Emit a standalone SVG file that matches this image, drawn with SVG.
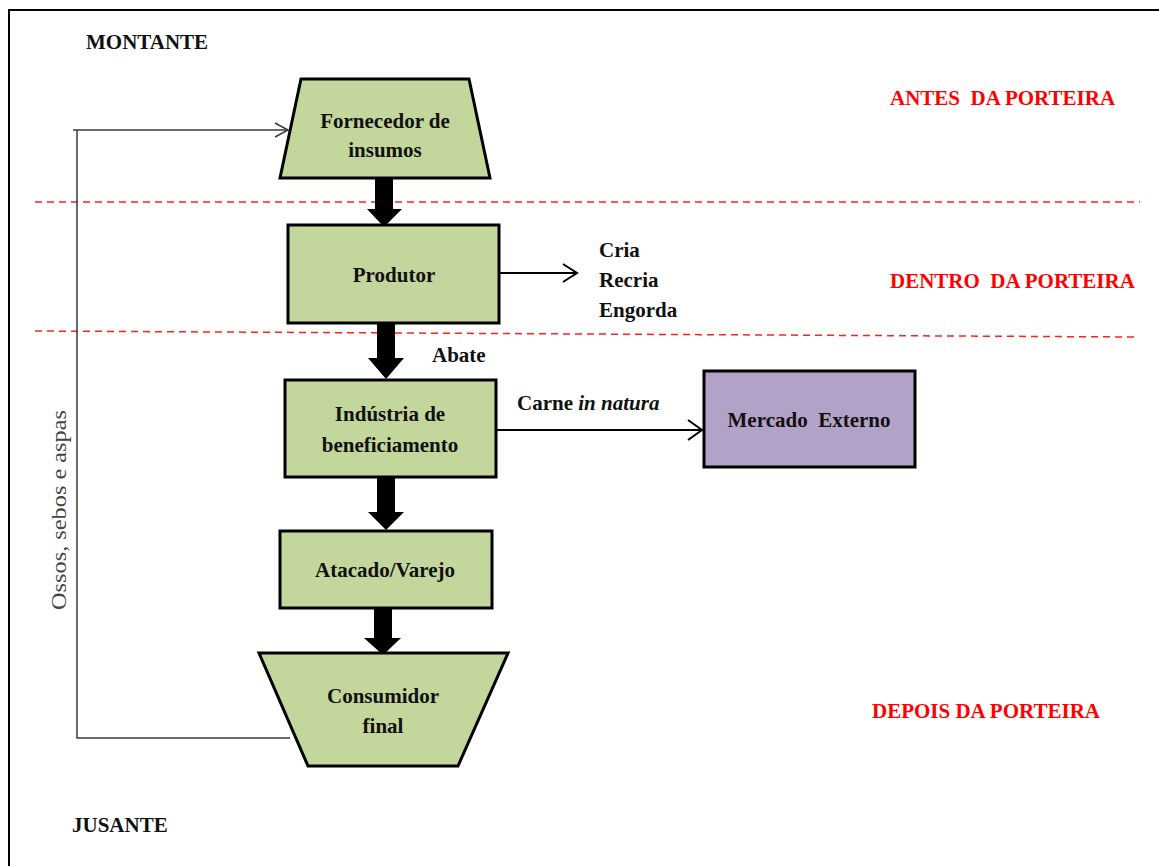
<svg xmlns="http://www.w3.org/2000/svg" width="1159" height="866" viewBox="0 0 1159 866">
  <style>
    text { white-space: pre; }
    .frame { fill: none; stroke: #000; stroke-width: 2; }
    .zone { fill: none; stroke: #ff2020; stroke-width: 1.5; stroke-dasharray: 7 5; }
    .box { fill: #c3d69b; stroke: #000; stroke-width: 3; }
    .ext { fill: #b3a2c7; stroke: #000; stroke-width: 3; }
    .block { fill: #000; }
    .thin { fill: none; stroke: #000; stroke-width: 2; }
    .feed { fill: none; stroke: #3a3a3a; stroke-width: 1.5; }
    .lbl { font-family: "Liberation Serif", "Times New Roman", serif; font-weight: bold; font-size: 21px; fill: #111; }
    .mid { text-anchor: middle; }
    .red { font-family: "Liberation Serif", "Times New Roman", serif; font-weight: bold; font-size: 21px; fill: #ff0000; }
    .side { font-family: "Liberation Serif", "Times New Roman", serif; font-size: 21px; fill: #444; }
  </style>

  <rect width="1159" height="866" fill="#fff"/>
  <!-- outer frame -->
  <path class="frame" d="M9,866 V10 H1159"/>

  <!-- zone separators -->
  <line class="zone" x1="35" y1="202" x2="1140" y2="202"/>
  <line class="zone" x1="35" y1="331" x2="1135" y2="337"/>

  <!-- zone and direction labels -->
  <text class="lbl" x="86" y="49">MONTANTE</text>
  <text class="lbl" x="72" y="832">JUSANTE</text>
  <text class="red" x="890" y="105">ANTES  DA PORTEIRA</text>
  <text class="red" x="890" y="288">DENTRO  DA PORTEIRA</text>
  <text class="red" x="872" y="718">DEPOIS DA PORTEIRA</text>

  <g id="connectors">
    <!-- main flow block arrows -->
    <path class="block" d="M375,178 H393 V209 H402 L384,227 L367,209 H375 Z"/>
    <path class="block" d="M377,323 H395 V358 H404 L386,379 L368,358 H377 Z"/>
    <path class="block" d="M377,477 H395 V512 H404 L386,530 L368,512 H377 Z"/>
    <path class="block" d="M374,608 H392 V638 H401 L383,655 L364,638 H374 Z"/>
    <!-- producer outputs -->
    <line class="thin" x1="499" y1="273" x2="577" y2="273"/>
    <path class="thin" d="M563,264 L577,273 L563,282"/>
    <!-- export flow -->
    <line class="thin" x1="496" y1="430" x2="702" y2="430" stroke-width="3"/>
    <path class="thin" stroke-width="3" d="M688,420 L702,430 L688,440"/>
    <!-- by-product return loop -->
    <path class="feed" d="M290,738 H77 V130"/>
    <line class="feed" x1="73" y1="130" x2="288" y2="130"/>
    <path class="feed" d="M275,123 L288,130 L275,137"/>
  </g>

  <g id="fornecedor">
    <path class="box" d="M301,79 H469 L490,178 H280 Z"/>
    <text class="lbl mid" x="385" y="128">Fornecedor de</text>
    <text class="lbl mid" x="385" y="157">insumos</text>
  </g>

  <g id="produtor">
    <rect class="box" x="288" y="225" width="211" height="98"/>
    <text class="lbl mid" x="394" y="282">Produtor</text>
  </g>

  <g id="fases">
    <text class="lbl" x="599" y="257">Cria</text>
    <text class="lbl" x="599" y="287">Recria</text>
    <text class="lbl" x="599" y="317">Engorda</text>
  </g>

  <g id="abate">
    <text class="lbl" x="432" y="362">Abate</text>
  </g>

  <g id="industria">
    <rect class="box" x="285" y="380" width="211" height="97"/>
    <text class="lbl mid" x="390" y="421">Indústria de</text>
    <text class="lbl mid" x="390" y="452">beneficiamento</text>
  </g>

  <g id="carne">
    <text class="lbl" x="517" y="410">Carne <tspan font-style="italic">in natura</tspan></text>
  </g>

  <g id="mercado-externo">
    <rect class="ext" x="704" y="371" width="211" height="96"/>
    <text class="lbl mid" x="809" y="427">Mercado  Externo</text>
  </g>

  <g id="atacado">
    <rect class="box" x="280" y="531" width="212" height="77"/>
    <text class="lbl mid" x="385" y="577">Atacado/Varejo</text>
  </g>

  <g id="consumidor">
    <path class="box" d="M259,653 H508 L458,766 H308 Z"/>
    <text class="lbl mid" x="383" y="703">Consumidor</text>
    <text class="lbl mid" x="383" y="733">final</text>
  </g>

  <g id="subprodutos">
    <text class="side mid" transform="translate(66,510) rotate(-90)" textLength="200" lengthAdjust="spacingAndGlyphs">Ossos, sebos e aspas</text>
  </g>
</svg>
